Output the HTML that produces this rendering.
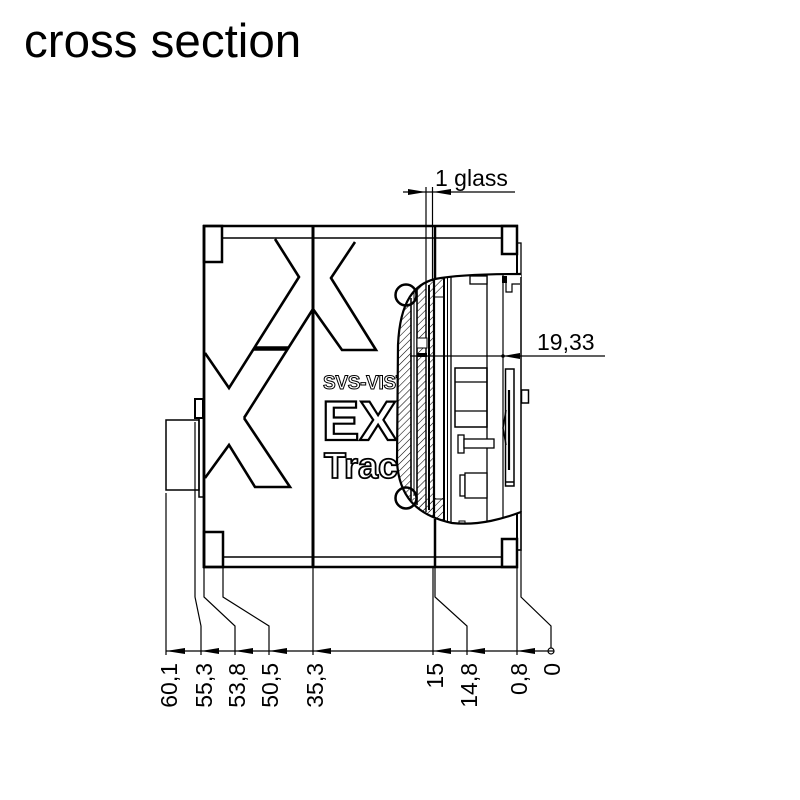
<!DOCTYPE html>
<html>
<head>
<meta charset="utf-8">
<style>
html,body{margin:0;padding:0;background:#fff;}
svg{display:block;}
text{font-family:"Liberation Sans",Arial,sans-serif;}
</style>
</head>
<body>
<svg width="800" height="800" viewBox="0 0 800 800" xmlns="http://www.w3.org/2000/svg">
<defs>
  <pattern id="h" width="5" height="10" patternUnits="userSpaceOnUse" patternTransform="rotate(45)">
    <line x1="0" y1="0" x2="0" y2="10" stroke="#000" stroke-width="1.1"/>
  </pattern>
  <clipPath id="lens">
    <path d="M521,274 C490,274 455,275 435,279 C415,284 400,300 398,345 L397,462 C399,495 415,515 452,523 C480,526 505,518 521,512 Z"/>
  </clipPath>
</defs>
<rect width="800" height="800" fill="#fff"/>

<!-- Title -->
<text x="24" y="57" font-size="47.5" fill="#000">cross section</text>

<!-- Logo text (behind lens) -->
<g fill="#fff" stroke="#000" font-weight="bold">
  <text x="323" y="389" font-size="19" stroke-width="1" letter-spacing="-0.3">SVS-VISTEK</text>
  <text x="322" y="440" font-size="56" stroke-width="2.2">EXO</text>
  <text x="324" y="478" font-size="36" stroke-width="1.8">Tracer</text>
</g>

<!-- Body -->
<g stroke="#000" fill="none">
  <line x1="203" y1="226" x2="518" y2="226" stroke-width="2.5"/>
  <line x1="203" y1="567" x2="518" y2="567" stroke-width="2.5"/>
  <line x1="222" y1="238" x2="502" y2="238" stroke-width="1.5"/>
  <line x1="223" y1="557" x2="502" y2="557" stroke-width="1.5"/>
  <line x1="204" y1="225" x2="204" y2="568" stroke-width="2.8"/>
  <rect x="204" y="226" width="18" height="36" stroke-width="2.5"/>
  <rect x="204" y="532" width="19" height="35" stroke-width="2.5"/>
  <rect x="502" y="226" width="15" height="28" stroke-width="2.5"/>
  <rect x="502" y="539" width="15" height="28" stroke-width="2.5"/>
  <line x1="313" y1="226" x2="313" y2="567" stroke-width="3"/>
  <line x1="435" y1="226" x2="435" y2="281" stroke-width="2.5"/>
  <line x1="435" y1="519" x2="435" y2="567" stroke-width="2.5"/>
  <line x1="517" y1="226" x2="517" y2="275" stroke-width="2"/>
  <line x1="517" y1="511" x2="517" y2="567" stroke-width="2"/>
  <rect x="517" y="243" width="4" height="34" stroke-width="1.3"/>
  <rect x="517" y="512" width="4" height="38" stroke-width="1.6"/>

  <!-- connector -->
  <rect x="166" y="420" width="33" height="70" stroke-width="1.5"/>
  <rect x="199" y="418" width="4.5" height="79" stroke-width="1.5"/>
  <rect x="195" y="399" width="8" height="19" stroke-width="2"/>

  <!-- X logo outlines -->
  <g stroke-width="2.6" stroke-linejoin="miter">
    <polyline points="205,353 229,388 299,277 275,239"/>
    <polyline points="244,418 313,309 342,350 376,350 331,278 355,242"/>
    <polyline points="244,418 290,487 255,487 229,445 205,478"/>
  </g>
  <line x1="254" y1="348.5" x2="288" y2="348.5" stroke-width="4.5"/>
</g>

<!-- Lens assembly -->
<path d="M521,274 C490,274 455,275 435,279 C415,284 400,300 398,345 L397,462 C399,495 415,515 452,523 C480,526 505,518 521,512 Z" fill="#fff" stroke="none"/>
<g clip-path="url(#lens)">
  <g fill="url(#h)">
    <rect x="390" y="270" width="21" height="260"/>
    <rect x="417" y="283" width="9" height="230"/>
    <rect x="429" y="278" width="5" height="245"/>
    <polygon points="434,276 445,276 445,287 434,298"/>
    <polygon points="400,498 445,498 445,530 400,530"/>
  </g>
  <g stroke="#000" fill="none">
    <line x1="411" y1="298" x2="411" y2="500" stroke-width="1.6"/>
    <line x1="414" y1="292" x2="414" y2="496" stroke-width="1"/>
    <line x1="417" y1="286" x2="417" y2="505" stroke-width="1.6"/>
    <line x1="426" y1="281" x2="426" y2="512" stroke-width="1.4"/>
    <line x1="429" y1="285" x2="429" y2="510" stroke-width="2"/>
    <line x1="434" y1="270" x2="434" y2="530" stroke-width="2.2"/>
    <line x1="444" y1="270" x2="444" y2="530" stroke-width="2"/>
    <line x1="447.5" y1="270" x2="447.5" y2="530" stroke-width="1"/>
    <line x1="451" y1="270" x2="451" y2="530" stroke-width="1.3"/>
    <line x1="487" y1="270" x2="487" y2="530" stroke-width="1.3"/>
    <line x1="503" y1="270" x2="503" y2="530" stroke-width="1.2"/>
    <line x1="434" y1="297" x2="445" y2="297" stroke-width="1"/>
    <line x1="434" y1="499" x2="445" y2="499" stroke-width="1"/>
  </g>
</g>
<path d="M521,274 C490,274 455,275 435,279 C415,284 400,300 398,345 L397,462 C399,495 415,515 452,523 C480,526 505,518 521,512" fill="none" stroke="#000" stroke-width="2.2"/>
<g stroke="#000" fill="none">
  <line x1="521" y1="277" x2="521" y2="512" stroke-width="1.5"/>
  <circle cx="406" cy="295" r="10.5" stroke-width="2.5"/>
  <circle cx="406" cy="498" r="10.5" stroke-width="2.5"/>
  <rect x="417" y="338" width="10" height="10" fill="#fff" stroke-width="1"/>
  <!-- inner parts -->
  <rect x="470" y="276" width="17" height="8" stroke-width="1.3" fill="#fff"/>
  <rect x="455" y="368" width="32" height="59" stroke-width="1.5"/>
  <line x1="455" y1="382" x2="487" y2="382" stroke-width="1.3"/>
  <line x1="455" y1="411" x2="487" y2="411" stroke-width="1.3"/>
  <rect x="458" y="435" width="6" height="18" stroke-width="1.3"/>
  <rect x="464" y="439" width="30" height="9" stroke-width="1.3" fill="#fff"/>
  <rect x="460" y="475" width="5" height="21" stroke-width="1.3"/>
  <rect x="465" y="473" width="22" height="25" stroke-width="1.3" fill="#fff"/>
  <rect x="505.5" y="369" width="8.5" height="117" stroke-width="1.5" fill="#fff"/>
  <line x1="509" y1="390" x2="509" y2="470" stroke-width="2.2"/>
  <polyline points="506,410 503,428 506,445" stroke-width="1.5"/>
  <line x1="505.5" y1="482" x2="514" y2="482" stroke-width="1.5"/>
  <rect x="521.5" y="390" width="7" height="13" stroke-width="1.5"/>
  <polyline points="506,283 506,292 512,292 512,284 520,284" stroke-width="1.2"/>
  <rect x="459" y="521" width="6" height="3" stroke-width="1"/>
</g>
<rect x="502" y="276" width="5" height="7" fill="#000"/>
<rect x="417" y="353" width="10" height="4" fill="#000"/>

<!-- 19,33 dimension -->
<line x1="410" y1="356" x2="605" y2="356" stroke="#000" stroke-width="1.2"/>
<polygon points="503,356 520,353 520,359" fill="#000"/>
<circle cx="503" cy="356" r="1.8" fill="#000"/>
<text x="537" y="350" font-size="23" fill="#000">19,33</text>

<!-- 1 glass dimension -->
<g stroke="#000" stroke-width="1.2">
  <line x1="403" y1="192" x2="515" y2="192"/>
  <line x1="426" y1="187" x2="426" y2="282"/>
  <line x1="432.5" y1="187" x2="432.5" y2="281"/>
</g>
<polygon points="426,192 408,189 408,195" fill="#000"/>
<polygon points="433,192 451,189 451,195" fill="#000"/>
<text x="435" y="186" font-size="23" fill="#000">1 glass</text>

<!-- Bottom dimension chain -->
<g stroke="#000" stroke-width="1.2" fill="none">
  <line x1="166" y1="493" x2="166" y2="655"/>
  <polyline points="195,422 195,597 201,626 201,655"/>
  <polyline points="204,567 204,597 235,626 235,655"/>
  <polyline points="223,567 223,597 269,626 269,655"/>
  <line x1="313" y1="567" x2="313" y2="655"/>
  <line x1="433" y1="567" x2="433" y2="655"/>
  <polyline points="435,567 435,597 467,626 467,655"/>
  <line x1="517" y1="567" x2="517" y2="655"/>
  <polyline points="521,550 521,597 551,626 551,648"/>
  <line x1="166" y1="651" x2="554" y2="651"/>
  <circle cx="551" cy="651" r="3"/>
</g>
<g fill="#000">
  <polygon points="166,651 185,648 185,654"/>
  <polygon points="201,651 219,648 219,654"/>
  <polygon points="235,651 253,648 253,654"/>
  <polygon points="269,651 287,648 287,654"/>
  <polygon points="313,651 331,648 331,654"/>
  <polygon points="433,651 451,648 451,654"/>
  <polygon points="467,651 485,648 485,654"/>
  <polygon points="517,651 535,648 535,654"/>
</g>
<g font-size="23" fill="#000" text-anchor="end">
  <text transform="translate(177,663) rotate(-90)">60,1</text>
  <text transform="translate(212,663) rotate(-90)">55,3</text>
  <text transform="translate(245,663) rotate(-90)">53,8</text>
  <text transform="translate(278,663) rotate(-90)">50,5</text>
  <text transform="translate(323,663) rotate(-90)">35,3</text>
  <text transform="translate(443,663) rotate(-90)">15</text>
  <text transform="translate(477,663) rotate(-90)">14,8</text>
  <text transform="translate(527,663) rotate(-90)">0,8</text>
  <text transform="translate(560,663) rotate(-90)">0</text>
</g>
</svg>
</body>
</html>
